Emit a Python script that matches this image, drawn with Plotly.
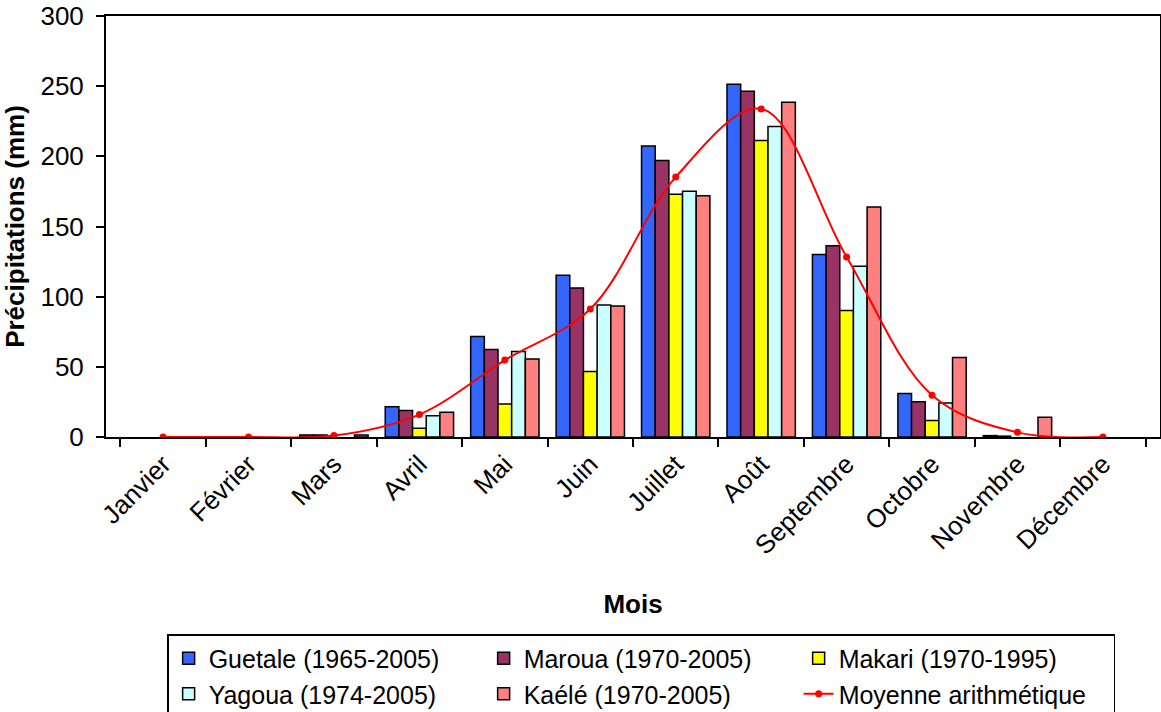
import plotly.graph_objects as go

mois = ["Janvier", "Février", "Mars", "Avril", "Mai", "Juin", "Juillet", "Août",
        "Septembre", "Octobre", "Novembre", "Décembre"]

guetale = [None, None, 1.5, 21.6, 71.7, 115.3, 207.4, 251.4, 130.0, 31.0, 1.0, None]
maroua = [None, None, 1.5, 18.8, 62.4, 106.2, 197.1, 246.4, 136.2, 25.2, 0.6, None]
makari = [None, None, None, 6.2, 23.6, 46.7, 172.9, 211.2, 90.2, 11.7, None, None]
yagoua = [None, None, None, 15.2, 61.0, 94.1, 175.2, 221.2, 121.7, 24.3, None, None]
kaele = [None, None, 1.5, 17.6, 55.5, 93.4, 171.9, 238.6, 163.9, 56.7, 14.0, None]
moyenne = [0, 0, 1.0, 16.0, 54.8, 91.2, 185.2, 233.8, 128.3, 29.8, 3.3, 0]

series = [
    ("Guetale (1965-2005)", guetale, "#3366FF"),
    ("Maroua (1970-2005)", maroua, "#993366"),
    ("Makari (1970-1995)", makari, "#FFFF00"),
    ("Yagoua (1974-2005)", yagoua, "#CCFFFF"),
    ("Kaélé (1970-2005)", kaele, "#FF8080"),
]

FONT = "Liberation Sans, Arial, sans-serif"
FS = 26

fig = go.Figure()
for name, vals, col in series:
    fig.add_trace(go.Bar(
        x=mois, y=vals, name=name,
        marker=dict(color=col, line=dict(color="black", width=1.5)),
    ))

fig.add_trace(go.Scatter(
    x=mois, y=moyenne, name="Moyenne arithmétique",
    mode="lines+markers",
    line=dict(color="#FF0000", width=2, shape="spline", smoothing=1.0),
    marker=dict(color="#FF0000", size=7),
))

fig.update_layout(
    width=1161, height=712,
    margin=dict(l=106, r=1, t=16, b=275, autoexpand=False),
    paper_bgcolor="white", plot_bgcolor="white",
    barmode="group", bargap=0.2, bargroupgap=0,
    font=dict(family=FONT, size=FS, color="black"),
    showlegend=True,
    legend=dict(
        orientation="h", x=0.058, xanchor="left", y=-0.468, yanchor="top",
        bordercolor="black", borderwidth=1.5, bgcolor="white",
        font=dict(family=FONT, size=25, color="black"),
        entrywidth=270, entrywidthmode="pixels",
        tracegroupgap=0, itemwidth=30,
    ),
    xaxis=dict(
        type="category", tickangle=-45, tickson="boundaries",
        ticks="outside", ticklen=8, tickcolor="black", tickwidth=1.5,
        showline=True, linecolor="black", linewidth=1.5, mirror=True,
        showgrid=False, automargin=False, ticklabeloverflow="allow",
        tickfont=dict(family=FONT, size=FS),
        title=dict(text="<b>Mois</b>", font=dict(family=FONT, size=FS), standoff=35),
    ),
    yaxis=dict(
        range=[0, 300], dtick=50, ticks="outside", ticklen=8, tickcolor="black",
        tickwidth=1.5, ticksuffix="\u00a0",
        showline=True, linecolor="black", linewidth=1.5, mirror=True,
        showgrid=False, zeroline=False, automargin=False, ticklabeloverflow="allow",
        tickfont=dict(family=FONT, size=FS),
        title=dict(text="<b>Précipitations (mm)</b>", font=dict(family=FONT, size=FS), standoff=8),
    ),
)

fig.write_html("out.html", config={"displayModeBar": False},
               post_script="document.body.style.margin='0';")
